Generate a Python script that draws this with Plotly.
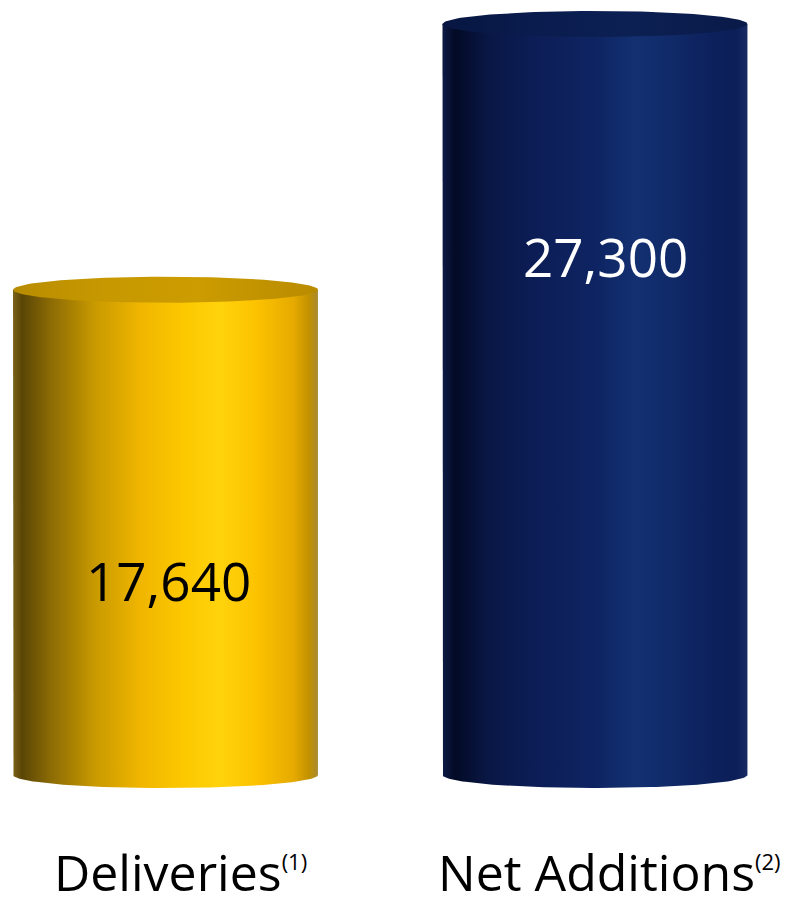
import numpy as np
import plotly.graph_objects as go

# Chart data
categories = ["Deliveries", "Net Additions"]
notes = ["(1)", "(2)"]
values = [17640, 27300]

# Styling
body_scales = [
    [[0.0, "#7a6218"], [0.03, "#5a4506"], [0.12, "#8a6a05"], [0.27, "#c99a00"],
     [0.42, "#f0b600"], [0.56, "#fcc800"], [0.68, "#ffd30c"], [0.8, "#fcc200"],
     [0.92, "#e6aa00"], [0.97, "#c29200"], [1.0, "#a88a30"]],
    [[0.0, "#0c1a44"], [0.04, "#030a26"], [0.15, "#091745"], [0.3, "#0c1d56"],
     [0.5, "#0e2462"], [0.63, "#133071"], [0.73, "#112b6a"], [0.86, "#0d225e"],
     [0.96, "#0b1e58"], [1.0, "#172a62"]],
]
top_scales = [
    [[0.0, "#b88c00"], [0.3, "#c79800"], [0.6, "#cc9c00"], [1.0, "#b98b00"]],
    [[0.0, "#071641"], [0.3, "#0a1c4e"], [0.6, "#0c2053"], [1.0, "#091a48"]],
]
text_colors = ["#000000", "#ffffff"]
label_frac = [0.40, 0.69]
label_xshift = [3, 11]
half_w = 0.355
ry = 473
FONT = "Open Sans"

fig = go.Figure()
theta_bot = np.linspace(np.pi, 2 * np.pi, 80)
theta_all = np.linspace(0, 2 * np.pi, 160)

for i, (v, bs, ts) in enumerate(zip(values, body_scales, top_scales)):
    xc = i
    # cylinder body: left edge, front bottom arc, right edge
    bx = [xc - half_w, xc - half_w] + list(xc + half_w * np.cos(theta_bot)) + [xc + half_w, xc - half_w]
    by = [v, 0] + list(ry * np.sin(theta_bot)) + [v, v]
    fig.add_trace(go.Scatter(
        x=bx, y=by, mode="lines", fill="toself", line=dict(width=0),
        fillgradient=dict(type="horizontal", colorscale=bs),
        hoverinfo="skip", showlegend=False,
    ))
    # top ellipse
    tx = xc + half_w * np.cos(theta_all)
    ty = v + ry * np.sin(theta_all)
    fig.add_trace(go.Scatter(
        x=tx, y=ty, mode="lines", fill="toself", line=dict(width=0),
        fillgradient=dict(type="horizontal", colorscale=ts),
        hoverinfo="skip", showlegend=False,
    ))
    # value label
    fig.add_annotation(
        x=xc, y=v * label_frac[i], text=f"{v:,}", showarrow=False,
        xshift=label_xshift[i],
        font=dict(family=FONT, size=53, color=text_colors[i]),
        xanchor="center", yanchor="middle",
    )
    # category label with footnote marker
    fig.add_annotation(
        x=xc, y=0.0365, yref="paper", xshift=15,
        text=f"{categories[i]}<sup><span style='font-size:22px'>{notes[i]}</span></sup>",
        showarrow=False, font=dict(family=FONT, size=50, color="#000000"),
        xanchor="center", yanchor="middle",
    )

fig.update_layout(
    width=787, height=905,
    margin=dict(l=0, r=0, t=0, b=0),
    paper_bgcolor="white", plot_bgcolor="white",
    xaxis=dict(range=[-0.3853, 1.4471], visible=False, fixedrange=True),
    yaxis=dict(range=[-4726, 28172], visible=False, fixedrange=True),
)

fig.write_html("out.html")
